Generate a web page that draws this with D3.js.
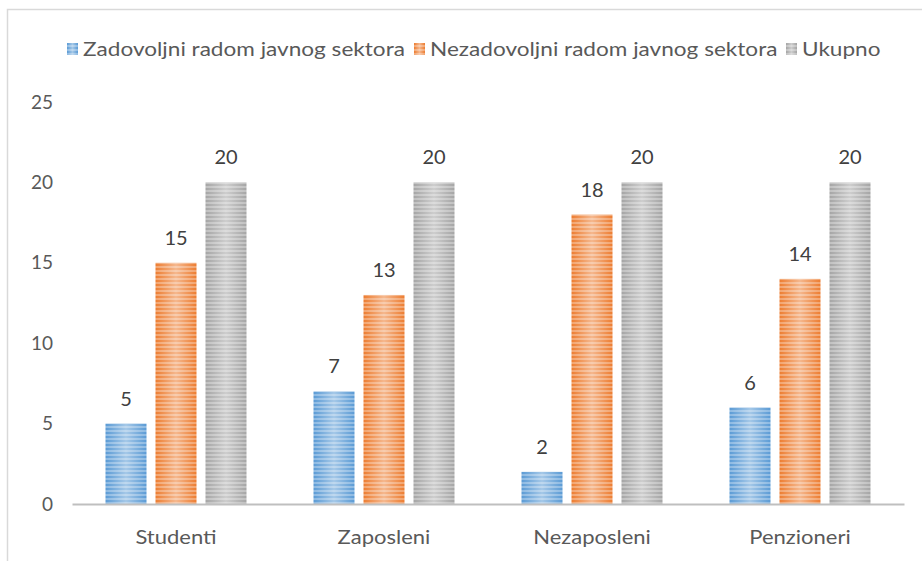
<!DOCTYPE html>
<html><head><meta charset="utf-8">
<script src="https://cdn.jsdelivr.net/npm/d3@7"></script>
<style>body{margin:0;background:#fff}svg{display:block}</style>
</head><body>
<svg id="c" width="922" height="561"></svg>
<script>
const categories = ["Studenti", "Zaposleni", "Nezaposleni", "Penzioneri"];
const seriesNames = ["Zadovoljni radom javnog sektora", "Nezadovoljni radom javnog sektora", "Ukupno"];
const zadovoljni = [5, 7, 2, 6];
const nezadovoljni = [15, 13, 18, 14];
const ukupno = [20, 20, 20, 20];
const yTicks = [0, 5, 10, 15, 20, 25];
const colors = ["#5B9BD5", "#ED7D31", "#A5A5A5"];
const seriesValues = [zadovoljni, nezadovoljni, ukupno];

const svg = d3.select("#c");
const font = "Lato, 'Open Sans', sans-serif";
const textColor = "#595959";

// border
svg.append("rect").attr("x", 7.5).attr("y", 9.5).attr("width", 930).attr("height", 570)
  .attr("fill", "#fff").attr("stroke", "#d9d9d9").attr("stroke-width", 1.5);

const defs = svg.append("defs");
colors.forEach((c, i) => {
  const p = defs.append("pattern").attr("id", "pat" + i).attr("patternUnits", "userSpaceOnUse")
    .attr("width", 8).attr("height", 4);
  p.append("rect").attr("width", 8).attr("height", 4).attr("fill", c);
  p.append("rect").attr("y", 2).attr("width", 8).attr("height", 2).attr("fill", d3.interpolateRgb(c, "#fff")(0.3));
});
const g = defs.append("linearGradient").attr("id", "shine").attr("x1", 0).attr("x2", 1).attr("y1", 0).attr("y2", 0);
g.append("stop").attr("offset", "0%").attr("stop-color", "#fff").attr("stop-opacity", 0);
g.append("stop").attr("offset", "50%").attr("stop-color", "#fff").attr("stop-opacity", 0.45);
g.append("stop").attr("offset", "100%").attr("stop-color", "#fff").attr("stop-opacity", 0);

const x0 = d3.scaleBand().domain(categories).range([72, 904]).padding(0);
const x1 = d3.scaleBand().domain(d3.range(3)).range([33.5, 174.5]).paddingInner(0.18).paddingOuter(0);
const y = d3.scaleLinear().domain([0, 25]).range([504, 102]);

// y axis labels
const yAxis = d3.axisLeft(y).tickValues(yTicks).tickSize(0).tickPadding(0);
const ya = svg.append("g").attr("transform", "translate(53,0)").call(yAxis);
ya.select(".domain").remove();
ya.selectAll("text").attr("font-family", font).attr("font-size", 19).attr("fill", textColor);

// bars
const groups = svg.append("g").selectAll("g").data(categories).join("g")
  .attr("transform", d => `translate(${x0(d)},0)`);
const barData = (cat, ci) => seriesValues.map((vals, si) => ({si, v: vals[ci]}));
groups.each(function(cat, ci) {
  const gg = d3.select(this);
  const data = barData(cat, ci);
  gg.selectAll("rect.bar").data(data).join("rect").attr("class", "bar")
    .attr("x", d => x1(d.si)).attr("width", x1.bandwidth())
    .attr("y", d => y(d.v)).attr("height", d => y(0) - y(d.v))
    .attr("fill", d => `url(#pat${d.si})`);
  gg.selectAll("rect.shine").data(data).join("rect").attr("class", "shine")
    .attr("x", d => x1(d.si)).attr("width", x1.bandwidth())
    .attr("y", d => y(d.v)).attr("height", d => y(0) - y(d.v))
    .attr("fill", "url(#shine)");
  gg.selectAll("text").data(data).join("text")
    .attr("x", d => x1(d.si) + x1.bandwidth() / 2).attr("y", d => y(d.v) - 18)
    .attr("text-anchor", "middle").attr("font-family", font).attr("font-size", 20)
    .attr("fill", "#404040").text(d => d.v);
});

// x axis
const xAxis = d3.axisBottom(x0).tickSize(0).tickPadding(0);
const xa = svg.append("g").attr("transform", "translate(0,504)").call(xAxis);
xa.select(".domain").attr("stroke", "#bfbfbf").attr("stroke-width", 2);
xa.selectAll("text").attr("font-family", font).attr("font-size", 20).attr("fill", textColor)
  .attr("dy", 0).attr("y", 0).attr("transform", "translate(0,40) scale(1.1,1)");

// legend
const legendX = [67, 414, 786];
const leg = svg.append("g").selectAll("g").data(seriesNames).join("g")
  .attr("transform", (d, i) => `translate(${legendX[i]},43)`);
leg.append("rect").attr("width", 11).attr("height", 12).attr("fill", (d, i) => `url(#pat${i})`);
leg.append("rect").attr("width", 11).attr("height", 12).attr("fill", "url(#shine)");
leg.append("text").attr("transform", "translate(16,13) scale(1.13,1)").attr("font-family", font).attr("font-size", 20)
  .attr("fill", textColor).text(d => d);
</script>
</body></html>
